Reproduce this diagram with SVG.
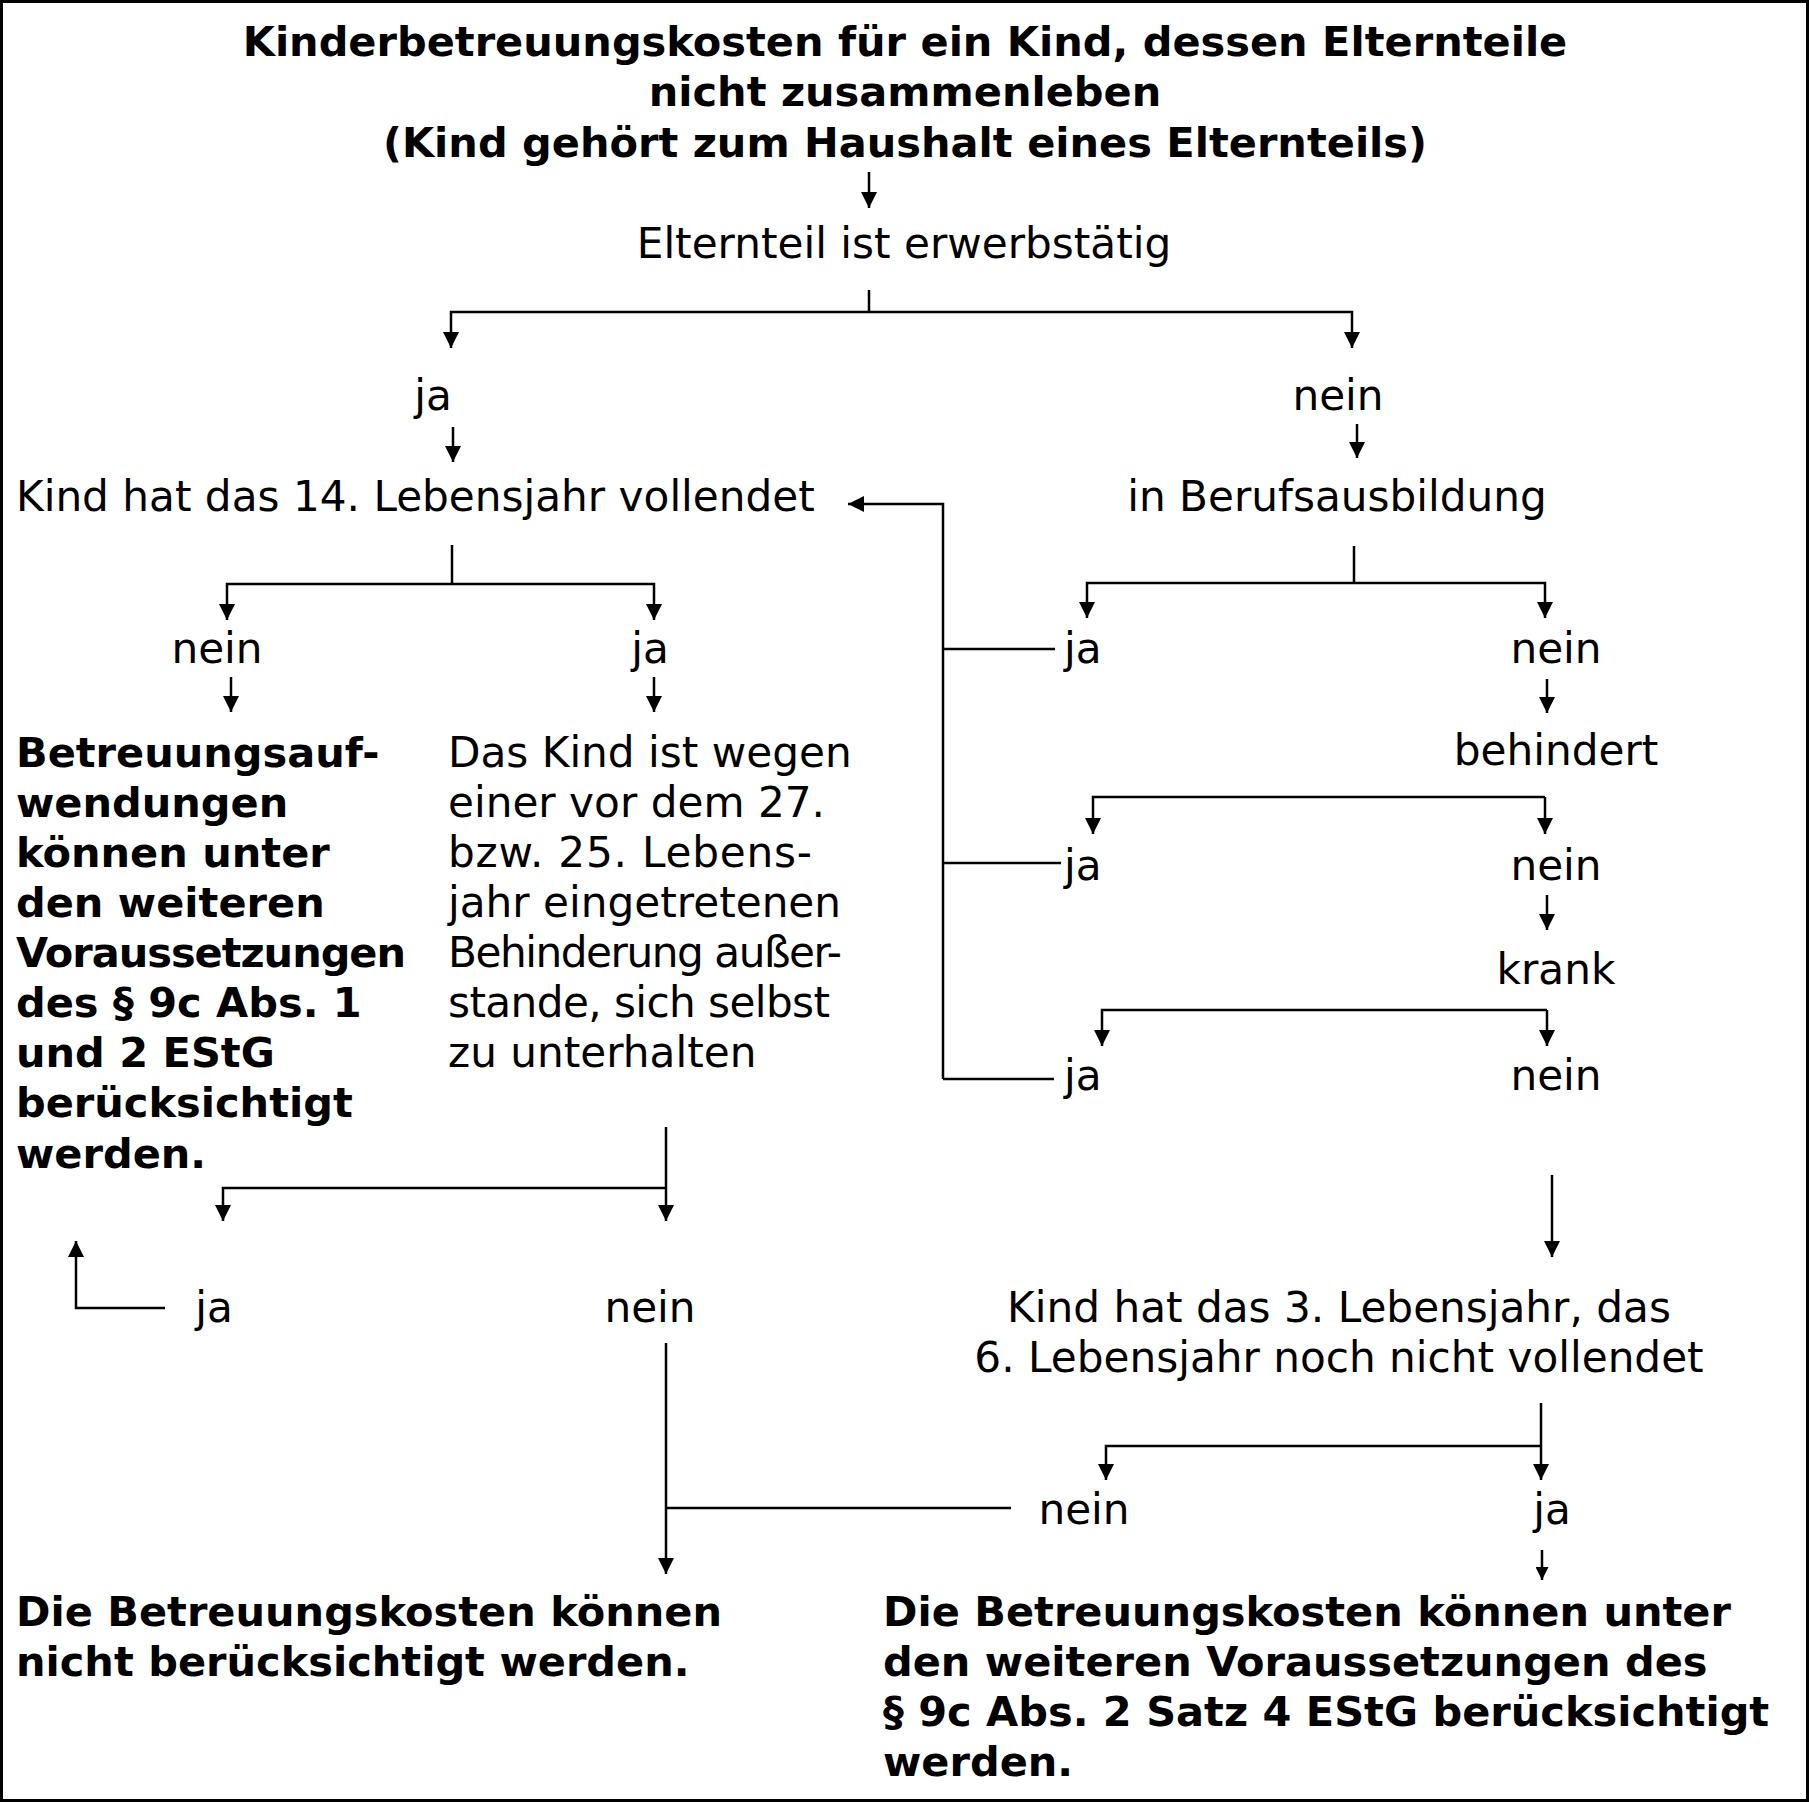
<svg xmlns="http://www.w3.org/2000/svg" width="1809" height="1802" viewBox="0 0 1809 1802">
<defs>
<style>
text{font-family:"DejaVu Sans","Verdana",sans-serif;fill:#000}
.r{font-size:42.2px}
.b{font-size:41.5px;font-weight:bold}
.m{text-anchor:middle}
.ln{fill:none;stroke:#000;stroke-width:2.5}
</style>
<marker id="ah" markerUnits="userSpaceOnUse" markerWidth="16" markerHeight="16" refX="16" refY="8" orient="auto" viewBox="0 0 16 16">
<path d="M0,0 L16,8 L0,16 z" fill="#000"/>
</marker>
<marker id="as" markerUnits="userSpaceOnUse" markerWidth="13" markerHeight="13" refX="13" refY="6.5" orient="auto" viewBox="0 0 13 13">
<path d="M0,0 L13,6.5 L0,13 z" fill="#000"/>
</marker>
</defs>
<rect x="1.5" y="1.5" width="1806" height="1799" fill="#fff" stroke="#000" stroke-width="3"/>

<g id="title">
<text class="b m" x="905" y="56">Kinderbetreuungskosten für ein Kind, dessen Elternteile</text>
<text class="b m" x="905" y="106">nicht zusammenleben</text>
<text class="b m" x="905" y="157">(Kind gehört zum Haushalt eines Elternteils)</text>
</g>
<g id="n-erwerb"><text class="r m" x="904" y="258">Elternteil ist erwerbstätig</text></g>
<g id="n-ja1"><text class="r m" x="433" y="410">ja</text></g>
<g id="n-nein1"><text class="r m" x="1338" y="410">nein</text></g>
<g id="n-kind14"><text class="r" x="16" y="511">Kind hat das 14. Lebensjahr vollendet</text></g>
<g id="n-beruf"><text class="r m" x="1337" y="511">in Berufsausbildung</text></g>
<g id="n-nein14"><text class="r m" x="217" y="663">nein</text></g>
<g id="n-ja14"><text class="r m" x="650" y="663">ja</text></g>
<g id="n-ja-beruf"><text class="r" x="1064" y="663">ja</text></g>
<g id="n-nein-beruf"><text class="r m" x="1556" y="663">nein</text></g>
<g id="n-betreuung1">
<text class="b" x="16" y="767">Betreuungsauf-</text>
<text class="b" x="16" y="817">wendungen</text>
<text class="b" x="16" y="867">können unter</text>
<text class="b" x="16" y="917">den weiteren</text>
<text class="b" x="16" y="967" textLength="390" lengthAdjust="spacing">Voraussetzungen</text>
<text class="b" x="16" y="1017">des § 9c Abs. 1</text>
<text class="b" x="16" y="1067">und 2 EStG</text>
<text class="b" x="16" y="1117">berücksichtigt</text>
<text class="b" x="16" y="1168">werden.</text>
</g>
<g id="n-behinderung">
<text class="r" x="448" y="767">Das Kind ist wegen</text>
<text class="r" x="448" y="817">einer vor dem 27.</text>
<text class="r" x="448" y="867" textLength="364" lengthAdjust="spacing">bzw. 25. Lebens-</text>
<text class="r" x="448" y="917">jahr eingetretenen</text>
<text class="r" x="448" y="967" textLength="394" lengthAdjust="spacing">Behinderung außer-</text>
<text class="r" x="448" y="1017" textLength="382" lengthAdjust="spacing">stande, sich selbst</text>
<text class="r" x="448" y="1067">zu unterhalten</text>
</g>
<g id="n-behindert"><text class="r m" x="1556" y="765">behindert</text></g>
<g id="n-ja-beh"><text class="r" x="1064" y="880">ja</text></g>
<g id="n-nein-beh"><text class="r m" x="1556" y="880">nein</text></g>
<g id="n-krank"><text class="r m" x="1556" y="984">krank</text></g>
<g id="n-ja-krank"><text class="r" x="1064" y="1090">ja</text></g>
<g id="n-nein-krank"><text class="r m" x="1556" y="1090">nein</text></g>
<g id="n-ja-beh2"><text class="r m" x="214" y="1322">ja</text></g>
<g id="n-nein-beh2"><text class="r m" x="650" y="1322">nein</text></g>
<g id="n-kind36">
<text class="r m" x="1339" y="1322">Kind hat das 3. Lebensjahr, das</text>
<text class="r m" x="1339" y="1372">6. Lebensjahr noch nicht vollendet</text>
</g>
<g id="n-nein36"><text class="r m" x="1084" y="1524">nein</text></g>
<g id="n-ja36"><text class="r m" x="1552" y="1524">ja</text></g>
<g id="n-nicht">
<text class="b" x="16" y="1626">Die Betreuungskosten können</text>
<text class="b" x="16" y="1676">nicht berücksichtigt werden.</text>
</g>
<g id="n-satz4">
<text class="b" x="883" y="1626">Die Betreuungskosten können unter</text>
<text class="b" x="883" y="1676">den weiteren Voraussetzungen des</text>
<text class="b" x="883" y="1726">§ 9c Abs. 2 Satz 4 EStG berücksichtigt</text>
<text class="b" x="883" y="1776">werden.</text>
</g>

<g id="connectors" class="ln">
<path class="ln" d="M869,172 V208" marker-end="url(#ah)"/>
<path class="ln" d="M869,290 V312"/>
<path class="ln" d="M869,312 H451 V348" marker-end="url(#ah)"/>
<path class="ln" d="M869,312 H1352 V348" marker-end="url(#ah)"/>
<path class="ln" d="M453,427 V462" marker-end="url(#ah)"/>
<path class="ln" d="M1357,424 V458" marker-end="url(#ah)"/>
<path class="ln" d="M943,1079 V504 H848" marker-end="url(#ah)"/>
<path class="ln" d="M943,649 H1055"/>
<path class="ln" d="M943,863 H1061"/>
<path class="ln" d="M943,1079 H1054"/>
<path class="ln" d="M452,545 V584"/>
<path class="ln" d="M452,584 H227 V620" marker-end="url(#ah)"/>
<path class="ln" d="M452,584 H654 V620" marker-end="url(#ah)"/>
<path class="ln" d="M231,677 V712" marker-end="url(#ah)"/>
<path class="ln" d="M654,677 V712" marker-end="url(#ah)"/>
<path class="ln" d="M1354,546 V583"/>
<path class="ln" d="M1354,583 H1087 V618" marker-end="url(#ah)"/>
<path class="ln" d="M1354,583 H1545 V618" marker-end="url(#ah)"/>
<path class="ln" d="M1547,679 V713" marker-end="url(#ah)"/>
<path class="ln" d="M1545,797 H1093 V834" marker-end="url(#ah)"/>
<path class="ln" d="M1545,797 V834" marker-end="url(#ah)"/>
<path class="ln" d="M1547,895 V930" marker-end="url(#ah)"/>
<path class="ln" d="M1547,1010 H1102 V1046" marker-end="url(#ah)"/>
<path class="ln" d="M1547,1010 V1046" marker-end="url(#ah)"/>
<path class="ln" d="M666,1127 V1221" marker-end="url(#ah)"/>
<path class="ln" d="M666,1188 H223 V1221" marker-end="url(#ah)"/>
<path class="ln" d="M165,1308 H76 V1241" marker-end="url(#ah)"/>
<path class="ln" d="M666,1343 V1574" marker-end="url(#ah)"/>
<path class="ln" d="M666,1508 H1011"/>
<path class="ln" d="M1552,1175 V1257" marker-end="url(#ah)"/>
<path class="ln" d="M1541,1403 V1480" marker-end="url(#ah)"/>
<path class="ln" d="M1541,1446 H1106 V1480" marker-end="url(#ah)"/>
<path class="ln" d="M1542,1550 V1580" marker-end="url(#as)"/>
</g>
</svg>
